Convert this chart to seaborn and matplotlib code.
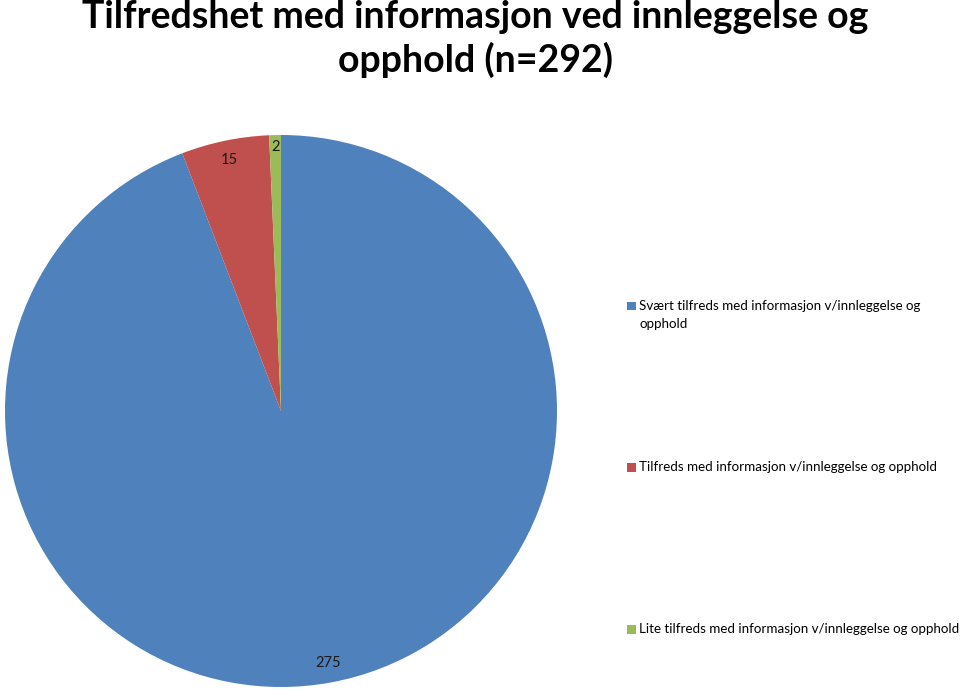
import textwrap
import matplotlib
matplotlib.use("Agg")
import matplotlib.pyplot as plt
import seaborn as sns
from matplotlib.patches import Rectangle

sns.set_theme(style="white")
plt.rcParams['font.family'] = ['Lato', 'DejaVu Sans']

title = "Tilfredshet med informasjon ved innleggelse og\nopphold (n=292)"
categories = [
    "Svært tilfreds med informasjon v/innleggelse og opphold",
    "Tilfreds med informasjon v/innleggelse og opphold",
    "Lite tilfreds med informasjon v/innleggelse og opphold",
]
values = [275, 15, 2]
colors = ["#4F81BD", "#C0504D", "#9BBB59"]

W, H = 960, 692
fig = plt.figure(figsize=(W / 100, H / 100), dpi=100)
fig.patch.set_facecolor("white")

cx, cy, r = 281, 411, 276
ax = fig.add_axes([(cx - r) / W, (H - cy - r) / H, 2 * r / W, 2 * r / H])
wedges, texts = ax.pie(values, colors=colors, startangle=90, counterclock=False,
                       labels=[str(v) for v in values], labeldistance=0.93,
                       wedgeprops=dict(linewidth=0),
                       textprops=dict(fontsize=10.5, color="#1a1a1a",
                                      ha="center", va="center"))
for t in texts:
    t.set_horizontalalignment("center")
texts[2].set_position((texts[2].get_position()[0] * 1.02, texts[2].get_position()[1] * 1.03))
ax.set_xlim(-1, 1)
ax.set_ylim(-1, 1)
ax.set_aspect("equal")
ax.axis("off")

fig.text(475 / W, 1 - 0 / H, title, ha="center", va="top", fontsize=27,
         fontweight="bold", linespacing=1.25, color="black")

# legend
leg_y = [306, 467, 629]
for cat, col, y in zip(categories, colors, leg_y):
    fig.patches.append(Rectangle((627 / W, (H - y - 4.5) / H), 9 / W, 9 / H,
                                 transform=fig.transFigure, facecolor=col, edgecolor="none"))
    lines = textwrap.wrap(cat, 48) if len(cat) > 54 else [cat]
    for i, ln in enumerate(lines):
        fig.text(639 / W, (H - y - 18 * i) / H, ln, ha="left", va="center",
                 fontsize=9.6, color="black")

fig.savefig("out.png", dpi=100, facecolor="white")
